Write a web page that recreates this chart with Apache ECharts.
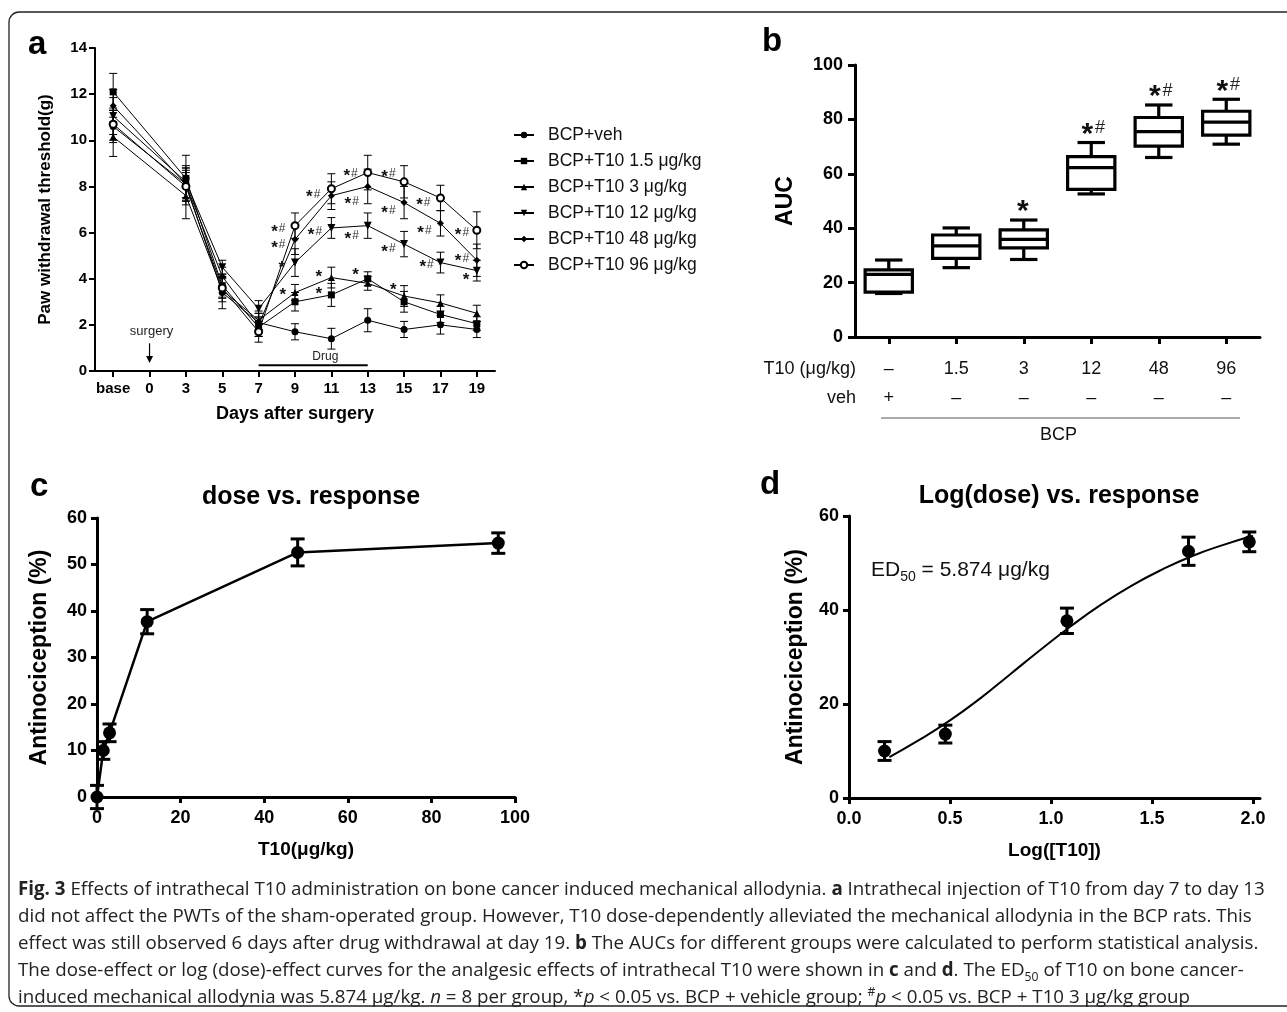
<!DOCTYPE html>
<html>
<head>
<meta charset="utf-8">
<script src="https://cdn.jsdelivr.net/npm/echarts@6/dist/echarts.min.js"></script>
<style>
html,body{margin:0;padding:0;background:#fff;}
#chart{position:absolute;left:0;top:0;width:1287px;height:1012px;}
#cap{position:absolute;left:18px;top:874px;font-family:'Open Sans','Noto Sans',sans-serif;color:#222;white-space:nowrap;}
#cap div{height:27px;line-height:27px;}
#cap sub,#cap sup{font-size:65%;line-height:0;}
</style>
</head>
<body>
<div id="chart"></div>
<div id="cap">
<div id="l1"><b>Fig. 3</b> Effects of intrathecal T10 administration on bone cancer induced mechanical allodynia. <b>a</b> Intrathecal injection of T10 from day 7 to day 13</div>
<div>did not affect the PWTs of the sham-operated group. However, T10 dose-dependently alleviated the mechanical allodynia in the BCP rats. This</div>
<div>effect was still observed 6 days after drug withdrawal at day 19. <b>b</b> The AUCs for different groups were calculated to perform statistical analysis.</div>
<div>The dose-effect or log (dose)-effect curves for the analgesic effects of intrathecal T10 were shown in <b>c</b> and <b>d</b>. The ED<sub>50</sub> of T10 on bone cancer-</div>
<div>induced mechanical allodynia was 5.874 μg/kg. <i>n</i> = 8 per group, *<i>p</i> &lt; 0.05 vs. BCP + vehicle group; <sup>#</sup><i>p</i> &lt; 0.05 vs. BCP + T10 3 μg/kg group</div>
</div>
<script>
// ---------------- Panel a data ----------------
const daysA = ['base', '0', '3', '5', '7', '9', '11', '13', '15', '17', '19'];
const namesA = ['BCP+veh', 'BCP+T10 1.5 μg/kg', 'BCP+T10 3 μg/kg', 'BCP+T10 12 μg/kg', 'BCP+T10 48 μg/kg', 'BCP+T10 96 μg/kg'];
const vehMean = [10.6, null, 8.1, 3.4, 2.1, 1.7, 1.4, 2.2, 1.8, 2.0, 1.8];
const vehErr  = [0.7, null, 0.6, 0.7, 0.4, 0.35, 0.45, 0.5, 0.35, 0.4, 0.35];
const t15Mean = [12.1, null, 8.35, 3.7, 1.9, 3.0, 3.3, 4.0, 3.0, 2.45, 2.05];
const t15Err  = [0.8, null, 1.0, 0.5, 0.4, 0.4, 0.5, 0.3, 0.45, 0.35, 0.3];
const t3Mean  = [10.15, null, 7.6, 3.5, 2.2, 3.4, 4.05, 3.8, 3.25, 2.95, 2.5];
const t3Err   = [0.85, null, 1.0, 0.5, 0.4, 0.35, 0.45, 0.3, 0.45, 0.35, 0.35];
const t12Mean = [11.05, null, 8.2, 4.5, 2.7, 4.7, 6.2, 6.3, 5.5, 4.7, 4.35];
const t12Err  = [0.8, null, 0.7, 0.3, 0.35, 0.6, 0.45, 0.55, 0.55, 0.45, 0.45];
const t48Mean = [11.5, null, 8.1, 4.1, 2.0, 5.7, 7.6, 8.0, 7.3, 6.4, 4.8];
const t48Err  = [0.7, null, 0.7, 0.4, 0.5, 0.65, 0.6, 0.75, 0.7, 0.55, 0.7];
const t96Mean = [10.7, null, 8.0, 3.6, 1.7, 6.3, 7.9, 8.6, 8.2, 7.5, 6.1];
const t96Err  = [0.7, null, 0.8, 0.45, 0.45, 0.55, 0.65, 0.75, 0.7, 0.55, 0.8];
const meansA = [vehMean, t15Mean, t3Mean, t12Mean, t48Mean, t96Mean];
const errsA = [vehErr, t15Err, t3Err, t12Err, t48Err, t96Err];
const symbolsA = ['circle', 'rect', 'triangle', 'path://M0,0L10,0L5,9Z', 'diamond', 'emptyCircle'];
// significance marks: [position on day axis (index), value, mark]
const sigA = [
  [4.54, 6.15, '*#'], [4.54, 5.46, '*#'], [4.65, 4.59, '*'], [4.68, 3.4, '*'],
  [5.5, 7.66, '*#'], [5.55, 6.03, '*#'], [5.67, 4.18, '*'], [5.67, 3.47, '*'],
  [6.53, 8.57, '*#'], [6.56, 7.34, '*#'], [6.56, 5.85, '*#'], [6.68, 4.27, '*'],
  [7.57, 8.54, '*#'], [7.57, 6.95, '*#'], [7.57, 5.28, '*#'], [7.72, 3.62, '*'],
  [8.53, 7.31, '*#'], [8.56, 6.1, '*#'], [8.62, 4.62, '*#'],
  [9.59, 6.0, '*#'], [9.59, 4.88, '*#'], [9.72, 4.05, '*']
];
const surgeryDay = '0';
const drugStart = '7', drugEnd = '13';

// ---------------- Panel b data ----------------
const t10Row = ['–', '1.5', '3', '12', '48', '96'];
const vehRow = ['+', '–', '–', '–', '–', '–'];
// [min, Q1, median, Q3, max]
const aucBoxes = [
  [16.0, 16.5, 23.0, 24.7, 28.3],
  [25.5, 28.9, 33.5, 37.5, 40.1],
  [28.5, 32.8, 35.9, 39.4, 43.0],
  [52.6, 54.3, 62.3, 66.3, 71.5],
  [66.0, 70.2, 75.5, 80.7, 85.3],
  [70.9, 74.2, 79.0, 83.0, 87.4]
];
const sigB = ['', '', '*', '*#', '*#', '*#'];

// ---------------- Panel c data ----------------
const doseC = [0, 1.5, 3, 12, 48, 96];
const respC = [0, 10.0, 13.8, 37.7, 52.6, 54.6];
const errC  = [2.5, 1.9, 1.9, 2.6, 2.9, 2.2];

// ---------------- Panel d data ----------------
const logDoseD = [0.176, 0.477, 1.079, 1.681, 1.982];
const respD = [10.0, 13.6, 37.7, 52.5, 54.5];
const errD  = [2.0, 1.9, 2.7, 3.0, 2.1];
const fitX = [0.2, 0.35, 0.5, 0.65, 0.8, 0.95, 1.1, 1.25, 1.4, 1.55, 1.7, 1.85, 2.0];
const fitY = [8.7, 12.4, 16.5, 21.2, 26.4, 31.6, 36.6, 41.2, 45.2, 48.6, 51.5, 53.8, 55.8];

// ---------------- helpers ----------------
const F = "'Liberation Sans', Arial, Helvetica, sans-serif";
function errRender(capHalf, lw) {
  return function (params, api) {
    const x = api.value(0), y = api.value(1), e = api.value(2);
    const t = api.coord([x, y + e]), b = api.coord([x, y - e]);
    const st = { stroke: '#000', lineWidth: lw };
    return { type: 'group', children: [
      { type: 'line', shape: { x1: t[0], y1: t[1], x2: b[0], y2: b[1] }, style: st },
      { type: 'line', shape: { x1: t[0] - capHalf, y1: t[1], x2: t[0] + capHalf, y2: t[1] }, style: st },
      { type: 'line', shape: { x1: b[0] - capHalf, y1: b[1], x2: b[0] + capHalf, y2: b[1] }, style: st }
    ]};
  };
}
function axisBase(lw, fs, bold, margin) {
  return {
    axisLine: { show: true, onZero: false, lineStyle: { color: '#000', width: lw } },
    axisTick: { show: true, inside: false, length: 6, lineStyle: { color: '#000', width: lw } },
    axisLabel: { color: '#000', fontFamily: F, fontSize: fs, fontWeight: bold ? 'bold' : 'normal', margin: margin },
    splitLine: { show: false }
  };
}

const errDataA = [];
meansA.forEach((m, s) => m.forEach((v, i) => { if (v != null) errDataA.push([i, v, errsA[s][i]]); }));

const series = [];
// error bars a
series.push({ type: 'custom', xAxisIndex: 0, yAxisIndex: 0, data: errDataA, encode: { x: 0, y: 1 },
  renderItem: errRender(4, 1), z: 2, silent: true });
// lines a
namesA.forEach((n, s) => {
  series.push({ type: 'line', name: n, xAxisIndex: 0, yAxisIndex: 0, data: meansA[s], connectNulls: true,
    symbol: symbolsA[s], symbolSize: s === 3 ? 8 : 7, showSymbol: true,
    lineStyle: { color: '#000', width: 1 }, itemStyle: { color: '#000', borderColor: '#000', borderWidth: s === 5 ? 1 : 0 },
    emphasis: { disabled: true }, z: 3, animation: false });
});
// significance marks a
series.push({ type: 'custom', xAxisIndex: 1, yAxisIndex: 0, data: sigA.map(d => [d[0], d[1], d[2]]),
  encode: { x: 0, y: 1 }, silent: true, z: 4,
  renderItem: function (params, api) {
    const p = api.coord([api.value(0), api.value(1)]);
    const mark = sigA[params.dataIndex][2];
    const txt = mark === '*#' ? '{s|*}{h|#}' : '{s|*}';
    return { type: 'text', x: p[0], y: p[1], style: { text: txt, align: 'center', verticalAlign: 'middle',
      rich: { s: { fontFamily: F, fontSize: 17, fontWeight: 'bold', fill: '#111', padding: [6, 1, 0, 0] },
              h: { fontFamily: F, fontSize: 12, fill: '#333' } } } };
  } });
// surgery arrow + drug bar a
series.push({ type: 'custom', xAxisIndex: 0, yAxisIndex: 0, data: [[daysA.indexOf(surgeryDay), 1.72]], encode: { x: 0, y: 1 },
  silent: true, z: 4,
  renderItem: function (params, api) {
    const i = api.value(0);
    const tp = api.coord([i, 1.72]);
    const a1 = api.coord([i, 1.2]), a2 = api.coord([i, 0.35]);
    const d1 = api.coord([daysA.indexOf(drugStart), 0.25]), d2 = api.coord([daysA.indexOf(drugEnd), 0.25]);
    const dm = api.coord([(daysA.indexOf(drugStart) + daysA.indexOf(drugEnd)) / 2, 0.62]);
    return { type: 'group', children: [
      { type: 'text', x: tp[0] + 2, y: tp[1], style: { text: 'surgery', fontFamily: F, fontSize: 13, fill: '#222', align: 'center', verticalAlign: 'middle' } },
      { type: 'line', shape: { x1: a1[0], y1: a1[1], x2: a2[0], y2: a2[1] - 5 }, style: { stroke: '#000', lineWidth: 1.2 } },
      { type: 'polygon', shape: { points: [[a2[0] - 3.5, a2[1] - 7], [a2[0] + 3.5, a2[1] - 7], [a2[0], a2[1]]] }, style: { fill: '#000' } },
      { type: 'line', shape: { x1: d1[0], y1: d1[1], x2: d2[0], y2: d2[1] }, style: { stroke: '#000', lineWidth: 2 } },
      { type: 'text', x: dm[0] - 6, y: dm[1], style: { text: 'Drug', fontFamily: F, fontSize: 12, fill: '#222', align: 'center', verticalAlign: 'middle' } }
    ]};
  } });

// box plot b
series.push({ type: 'custom', xAxisIndex: 2, yAxisIndex: 1, data: aucBoxes.map((b, i) => [i].concat(b)),
  encode: { x: 0, y: [1, 2, 3, 4, 5] }, silent: true, z: 3,
  renderItem: function (params, api) {
    const i = api.value(0);
    const mn = api.coord([i, api.value(1)]), q1 = api.coord([i, api.value(2)]), md = api.coord([i, api.value(3)]),
          q3 = api.coord([i, api.value(4)]), mx = api.coord([i, api.value(5)]);
    const bw = api.size([1, 0])[0] * 0.7, hw = bw / 2, cw = bw * 0.29;
    const x = md[0];
    const st = { stroke: '#000', lineWidth: 3.2, fill: null };
    const ch = [
      { type: 'line', shape: { x1: x, y1: q3[1], x2: x, y2: mx[1] }, style: st },
      { type: 'line', shape: { x1: x, y1: q1[1], x2: x, y2: mn[1] }, style: st },
      { type: 'line', shape: { x1: x - cw, y1: mx[1], x2: x + cw, y2: mx[1] }, style: st },
      { type: 'line', shape: { x1: x - cw, y1: mn[1], x2: x + cw, y2: mn[1] }, style: st },
      { type: 'rect', shape: { x: x - hw, y: q3[1], width: bw, height: q1[1] - q3[1] }, style: { stroke: '#000', lineWidth: 3.2, fill: '#fff' } },
      { type: 'line', shape: { x1: x - hw, y1: md[1], x2: x + hw, y2: md[1] }, style: st }
    ];
    const mark = sigB[i];
    if (mark) {
      const txt = mark === '*#' ? '{s|*}{h|#}' : '{s|*}';
      ch.push({ type: 'text', x: x + (mark === '*#' ? 2 : 0), y: mx[1] - 14, style: { text: txt, align: 'center', verticalAlign: 'middle',
        rich: { s: { fontFamily: F, fontSize: 30, fontWeight: 'bold', fill: '#111', padding: [12, 2, 0, 0] },
                h: { fontFamily: F, fontSize: 18, fill: '#222' } } } });
    }
    return { type: 'group', children: ch };
  } });

// panel c
series.push({ type: 'custom', xAxisIndex: 3, yAxisIndex: 2, data: doseC.map((d, i) => [d, respC[i], errC[i]]),
  encode: { x: 0, y: 1 }, renderItem: errRender(7, 3), silent: true, z: 2 });
series.push({ type: 'line', xAxisIndex: 3, yAxisIndex: 2, data: doseC.map((d, i) => [d, respC[i]]),
  symbol: 'circle', symbolSize: 13, lineStyle: { color: '#000', width: 2.5 }, itemStyle: { color: '#000' },
  emphasis: { disabled: true }, z: 3, clip: false });

// panel d
series.push({ type: 'line', xAxisIndex: 4, yAxisIndex: 3, data: fitX.map((x, i) => [x, fitY[i]]), smooth: true,
  showSymbol: false, symbol: 'none', lineStyle: { color: '#000', width: 2 }, emphasis: { disabled: true }, z: 2 });
series.push({ type: 'custom', xAxisIndex: 4, yAxisIndex: 3, data: logDoseD.map((d, i) => [d, respD[i], errD[i]]),
  encode: { x: 0, y: 1 }, renderItem: errRender(7, 3), silent: true, z: 3 });
series.push({ type: 'scatter', xAxisIndex: 4, yAxisIndex: 3, data: logDoseD.map((d, i) => [d, respD[i]]),
  symbol: 'circle', symbolSize: 13, itemStyle: { color: '#000', opacity: 1 }, emphasis: { disabled: true }, z: 4 });

const aX = Object.assign(axisBase(2, 15, true, 10), {
  type: 'category', gridIndex: 0, data: daysA, boundaryGap: true,
  name: 'Days after surgery', nameLocation: 'middle', nameGap: 34,
  nameTextStyle: { fontFamily: F, fontSize: 18, fontWeight: 'bold', color: '#000' } });
aX.axisTick.alignWithLabel = true; aX.axisTick.interval = 0;
aX.axisLabel.interval = 0; aX.axisLabel.hideOverlap = false;
const aX2 = { type: 'value', gridIndex: 0, min: -0.5, max: 10.5, show: false };
const aY = Object.assign(axisBase(2, 15, true, 8), {
  type: 'value', gridIndex: 0, min: 0, max: 14, interval: 2,
  name: 'Paw withdrawal threshold(g)', nameLocation: 'middle', nameGap: 41,
  nameTextStyle: { fontFamily: F, fontSize: 17, fontWeight: 'bold', color: '#000' } });

const bX = Object.assign(axisBase(3, 18, false, 18), {
  type: 'category', gridIndex: 1, data: t10Row.map((v, i) => i), boundaryGap: true });
bX.axisTick.alignWithLabel = true; bX.axisTick.length = 7;
bX.axisLabel.formatter = function (v, i) { return t10Row[i] + '\n' + vehRow[i]; };
bX.axisLabel.lineHeight = 29; bX.axisLabel.color = '#111'; bX.axisLabel.interval = 0;
const bY = Object.assign(axisBase(3, 18, true, 12), {
  type: 'value', gridIndex: 1, min: 0, max: 100, interval: 20,
  name: 'AUC', nameLocation: 'middle', nameGap: 58,
  nameTextStyle: { fontFamily: F, fontSize: 23, fontWeight: 'bold', color: '#000' } });
bY.axisTick.length = 7;

const cX = Object.assign(axisBase(3, 18, true, 12), {
  type: 'value', gridIndex: 2, min: 0, max: 100, interval: 20,
  name: 'T10(μg/kg)', nameLocation: 'middle', nameGap: 43,
  nameTextStyle: { fontFamily: F, fontSize: 19, fontWeight: 'bold', color: '#000' } });
const cY = Object.assign(axisBase(3, 18, true, 10), {
  type: 'value', gridIndex: 2, min: 0, max: 60, interval: 10,
  name: 'Antinociception (%)', nameLocation: 'middle', nameGap: 46,
  nameTextStyle: { fontFamily: F, fontSize: 23, fontWeight: 'bold', color: '#000' } });

const dX = Object.assign(axisBase(3, 18, true, 12), {
  type: 'value', gridIndex: 3, min: 0, max: 2.035, interval: 0.5,
  name: 'Log([T10])', nameLocation: 'middle', nameGap: 43,
  nameTextStyle: { fontFamily: F, fontSize: 19, fontWeight: 'bold', color: '#000' } });
dX.axisLabel.formatter = function (v) { return v.toFixed(1); };
dX.axisLabel.showMaxLabel = false;
const dY = Object.assign(axisBase(3, 18, true, 10), {
  type: 'value', gridIndex: 3, min: 0, max: 60, interval: 20,
  name: 'Antinociception (%)', nameLocation: 'middle', nameGap: 42,
  nameTextStyle: { fontFamily: F, fontSize: 23, fontWeight: 'bold', color: '#000' } });

const letter = (t, x, y) => ({ type: 'text', left: x, top: y, style: { text: t, fontFamily: F, fontSize: 33, fontWeight: 'bold', fill: '#000' } });

const option = {
  animation: false,
  backgroundColor: '#fff',
  grid: [
    { left: 95, top: 48, width: 400, height: 323 },
    { left: 855, top: 65, width: 405, height: 272 },
    { left: 97, top: 518, width: 418, height: 279 },
    { left: 849, top: 516, width: 411, height: 282 }
  ],
  xAxis: [aX, aX2, bX, cX, dX],
  yAxis: [aY, bY, cY, dY],
  title: [
    { text: 'dose vs. response', left: 306, top: 480, textAlign: 'center',
      textStyle: { fontFamily: F, fontSize: 25, fontWeight: 'bold', color: '#000' } },
    { text: 'Log(dose) vs. response', left: 1054, top: 479, textAlign: 'center',
      textStyle: { fontFamily: F, fontSize: 25, fontWeight: 'bold', color: '#000' } }
  ],
  legend: {
    data: namesA, orient: 'vertical', left: 508, top: 121, itemWidth: 20, itemHeight: 8, itemGap: 8,
    textStyle: { fontFamily: F, fontSize: 17.5, color: '#111', padding: [0, 0, 0, 9] },
    selectedMode: false
  },
  graphic: [
    { type: 'rect', shape: { x: 9, y: 12, width: 1300, height: 994, r: 10 }, style: { stroke: '#222', lineWidth: 1.3, fill: 'none' }, silent: true, z: -1 },
    letter('a', 28, 28), letter('b', 762, 25), letter('c', 30, 470), letter('d', 760, 468),
    { type: 'text', right: 1287 - 856, top: 360, style: { text: 'T10 (μg/kg)', fontFamily: F, fontSize: 18, fill: '#111' } },
    { type: 'text', right: 1287 - 856, top: 389, style: { text: 'veh', fontFamily: F, fontSize: 18, fill: '#111' } },
    { type: 'line', shape: { x1: 881, y1: 418, x2: 1240, y2: 418 }, style: { stroke: '#555', lineWidth: 1 } },
    { type: 'text', left: 1040, top: 426, style: { text: 'BCP', fontFamily: F, fontSize: 18, fill: '#111' } },
    { type: 'text', left: 871, top: 560, style: { text: '{n|ED}{s|50}{n| = 5.874 μg/kg}',
      rich: { n: { fontFamily: F, fontSize: 21, fill: '#111', lineHeight: 28, verticalAlign: 'middle' },
              s: { fontFamily: F, fontSize: 14, fill: '#111', lineHeight: 28, verticalAlign: 'bottom' } } } }
  ],
  series: series
};

const chart = echarts.init(document.getElementById('chart'), null, { renderer: 'canvas' });
chart.setOption(option);

// caption sizing: fit first line to the reference width
(function () {
  const cap = document.getElementById('cap');
  const l1 = document.getElementById('l1');
  cap.style.fontSize = '100px';
  const s = document.createElement('span'); s.innerHTML = l1.innerHTML; l1.innerHTML = ''; l1.appendChild(s);
  const w = s.getBoundingClientRect().width;
  cap.style.fontSize = (100 * 1247 / w).toFixed(2) + 'px';
})();
</script>
</body>
</html>
